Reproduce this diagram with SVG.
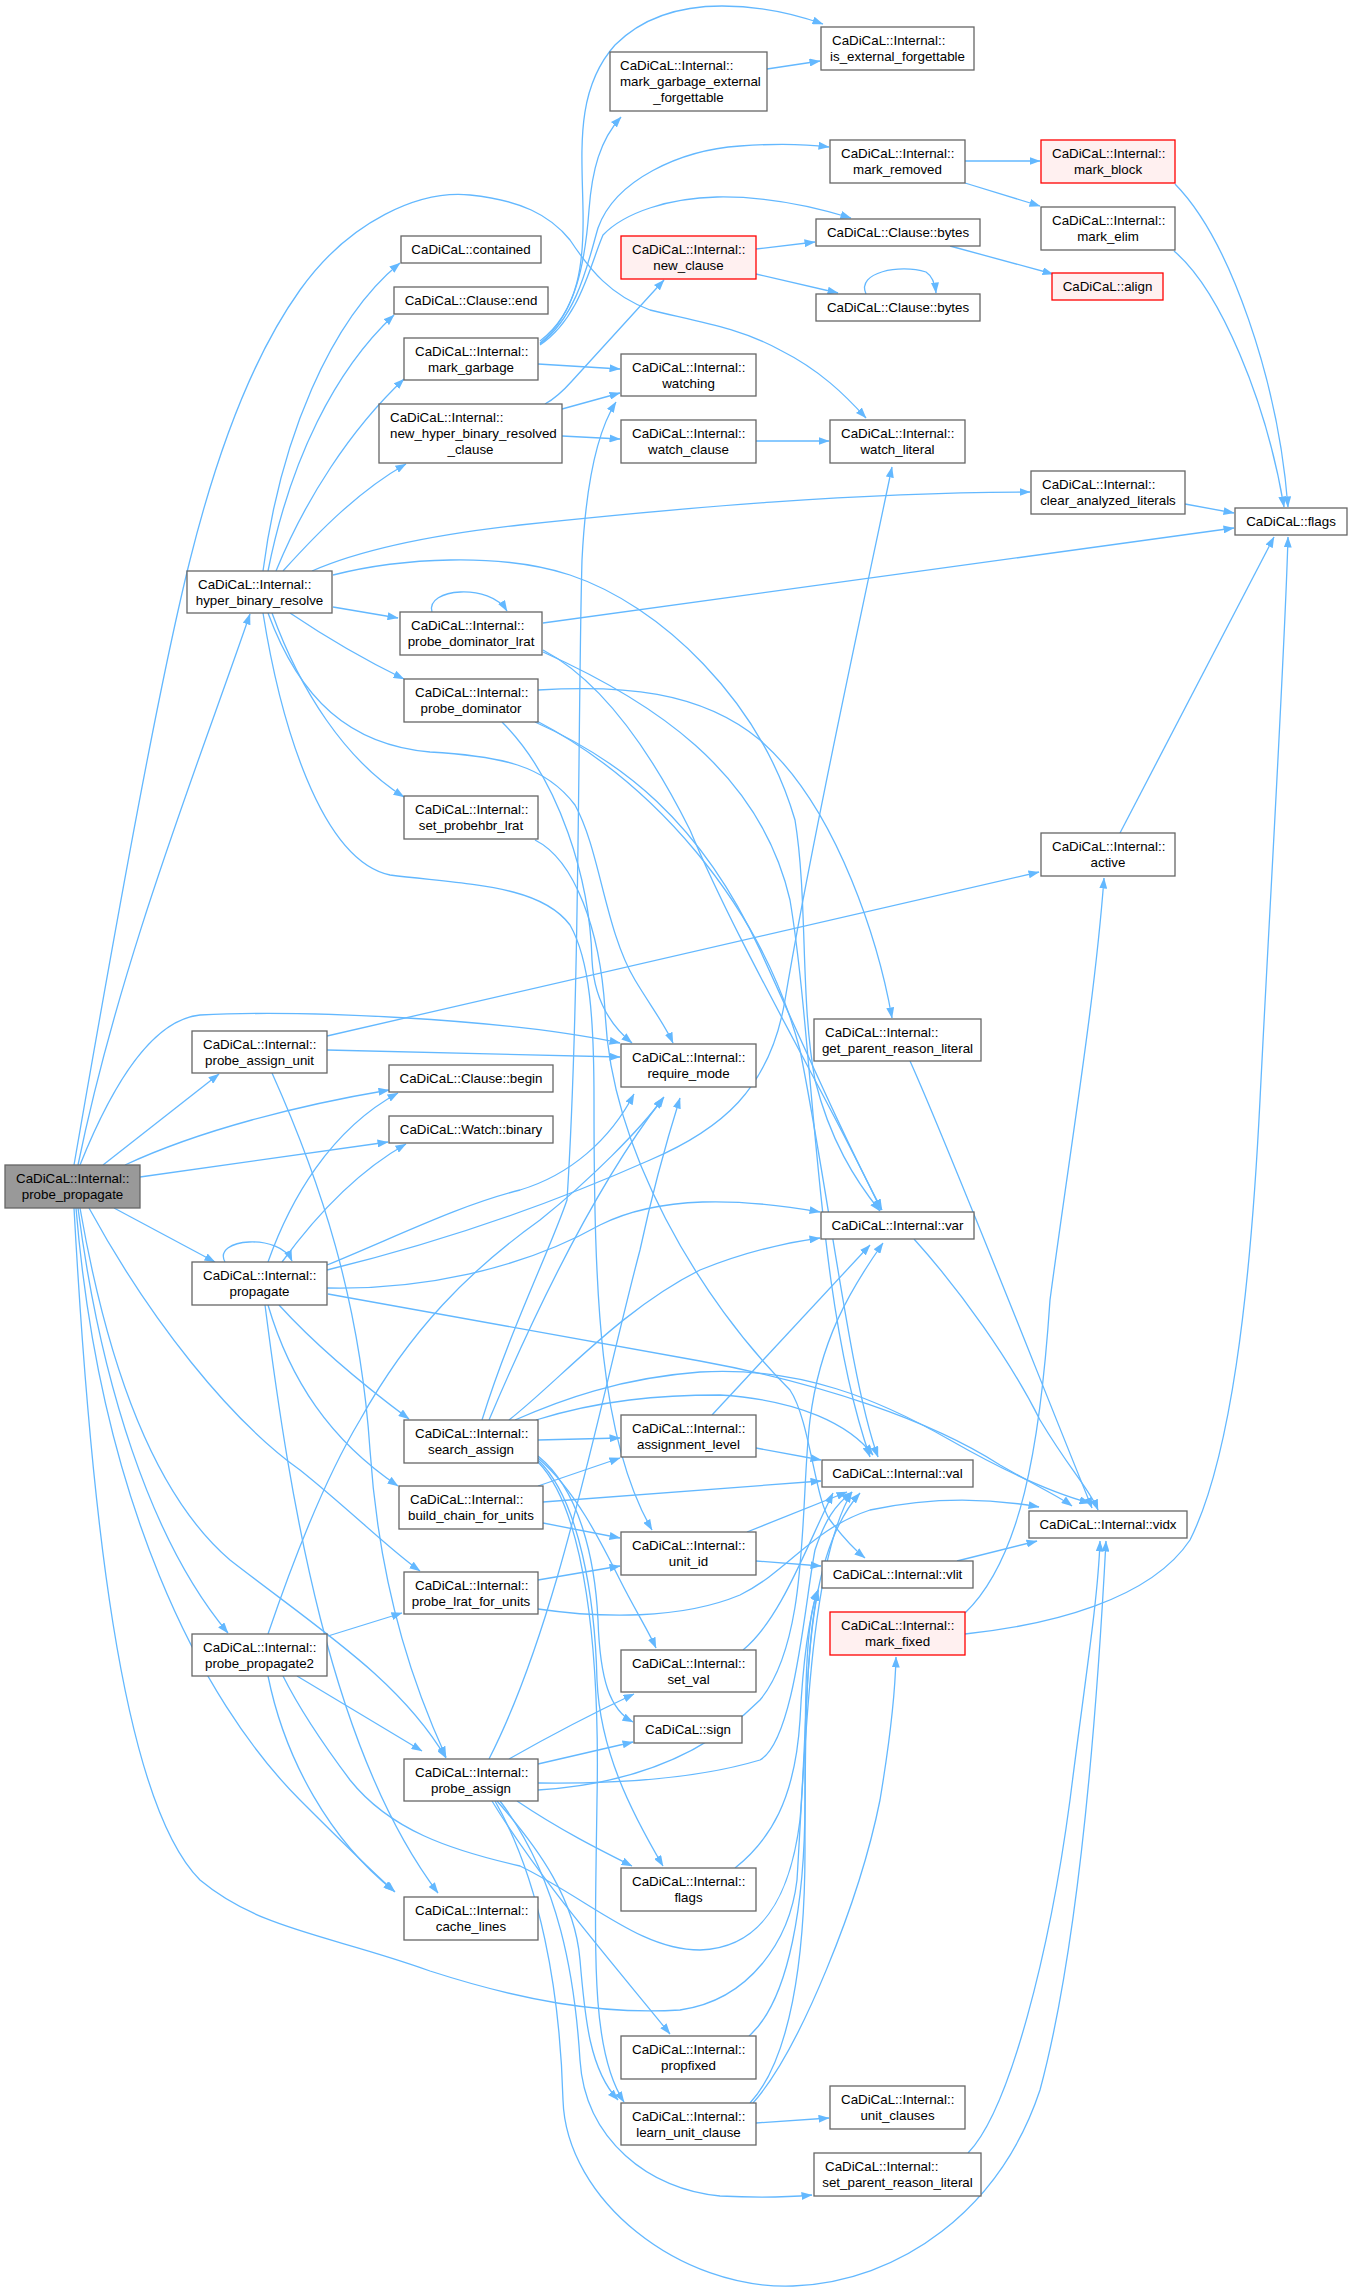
<svg xmlns="http://www.w3.org/2000/svg" width="1352" height="2292" viewBox="0 0 1352 2292">
<defs>
<marker id="a" markerUnits="userSpaceOnUse" markerWidth="11" markerHeight="8" viewBox="0 0 11 8" refX="10.5" refY="4" orient="auto"><path d="M0,0 L11,4 L0,8 z" fill="#63b8ff"/></marker>
</defs>
<style>
.n rect{fill:#ffffff;stroke:#666666;stroke-width:1.3}
.r rect{fill:#fff0f0;stroke:#ff0000}
.root rect{fill:#999999;stroke:#666666}
text{font-family:"Liberation Sans",Arial,Helvetica,sans-serif;font-size:13.33px;fill:#000000}
.c{text-anchor:middle}
.e path{fill:none;stroke:#63b8ff;stroke-width:1.3;marker-end:url(#a)}
</style>
<rect width="1352" height="2292" fill="#ffffff"/>
<g id="edges" class="e">
<path d="M767,69 L820,61"/>
<path d="M540,341 C580,310 584,260 583,210 C582,150 575,90 615,45 C645,15 685,6 722,6 C760,6 795,14 823,24"/>
<path d="M540,343 C575,315 585,265 589,210 C592,170 600,140 621,117"/>
<path d="M540,344 C578,315 588,262 598,228 C615,180 680,150 740,146 C780,143 805,144 829,147"/>
<path d="M540,345 C580,318 590,265 603,235 C625,212 670,198 717,197 C770,196 815,207 851,218"/>
<path d="M538,364 L620,369"/>
<path d="M545,404 C556,398 564,390 572,381 L664,280"/>
<path d="M562,409 L620,393"/>
<path d="M562,436 L620,439"/>
<path d="M756,249 L815,242"/>
<path d="M756,274 L838,293"/>
<path d="M866,294 C856,272 900,264 926,272 C932,276 935,283 936,293"/>
<path d="M950,246 L1053,274"/>
<path d="M965,161 L1040,161"/>
<path d="M965,183 L1040,206"/>
<path d="M1175,184 C1230,240 1278,380 1288,507"/>
<path d="M1174,251 C1220,290 1266,400 1284,507"/>
<path d="M1185,504 L1234,513"/>
<path d="M756,441 L829,441"/>
<path d="M263,571 C280,440 330,320 400,263"/>
<path d="M268,571 C290,460 335,370 394,315"/>
<path d="M276,571 C305,500 350,430 404,379"/>
<path d="M283,571 C320,530 360,490 406,464"/>
<path d="M312,571 C360,550 430,535 520,525 C680,508 860,492 1030,492"/>
<path d="M333,575 C400,558 500,552 570,575 C660,605 760,700 795,820 C808,900 800,1000 815,1080 C830,1140 855,1180 880,1211"/>
<path d="M333,607 L398,618"/>
<path d="M290,613 C330,640 365,660 404,679"/>
<path d="M272,613 C300,690 345,760 404,797"/>
<path d="M268,613 C300,700 350,745 430,752 C500,756 545,765 575,805 C600,850 605,930 635,980 C650,1005 665,1025 673,1043"/>
<path d="M263,613 C280,720 320,860 390,875 C470,885 540,885 570,925 C590,960 594,1020 594,1100 C594,1300 600,1440 652,1530"/>
<path d="M432,612 C425,588 490,583 507,611"/>
<path d="M543,623 L1234,528"/>
<path d="M543,650 C600,680 650,750 690,830 C740,950 830,1100 881,1210"/>
<path d="M543,652 C650,700 760,770 790,900 C815,1050 815,1300 870,1457"/>
<path d="M538,690 C620,685 700,690 760,740 C840,810 880,950 892,1018"/>
<path d="M502,722 C560,780 590,880 592,960 C594,1000 610,1025 632,1043"/>
<path d="M535,722 C620,760 700,820 760,950 C810,1060 850,1150 882,1210"/>
<path d="M535,720 C650,780 760,900 800,1050 C830,1200 850,1380 878,1457"/>
<path d="M535,840 C575,860 600,930 605,1010 C610,1150 700,1300 790,1390 C810,1420 815,1500 830,1520 C845,1540 855,1550 865,1558"/>
<path d="M78,1165 C120,960 200,760 250,614"/>
<path d="M74,1165 C120,900 160,680 190,560 C215,460 250,360 300,290 C350,220 420,190 470,195 C520,200 550,215 570,240 C590,270 610,295 650,310 C700,322 740,328 780,350 C820,370 845,395 866,418"/>
<path d="M80,1165 C110,1090 150,1020 200,1015 C300,1010 500,1018 620,1043"/>
<path d="M103,1165 L219,1074"/>
<path d="M125,1165 C200,1130 300,1105 389,1090"/>
<path d="M140,1177 L388,1142"/>
<path d="M114,1208 L215,1262"/>
<path d="M78,1208 C100,1380 150,1540 228,1633"/>
<path d="M89,1208 C150,1320 230,1420 300,1470 C350,1510 390,1550 420,1571"/>
<path d="M80,1208 C110,1380 160,1500 230,1560 C320,1630 400,1680 446,1758"/>
<path d="M76,1208 C100,1500 200,1700 300,1800 C340,1840 370,1870 395,1892"/>
<path d="M74,1208 C90,1500 120,1800 200,1880 C260,1930 330,1935 430,1971 C520,2000 600,2015 680,2010 C750,2000 790,1940 797,1880 C805,1750 810,1560 852,1492"/>
<path d="M327,1050 L620,1057"/>
<path d="M327,1036 L1039,872"/>
<path d="M272,1073 C320,1180 360,1300 370,1450 C380,1600 420,1700 446,1757"/>
<path d="M328,1636 L402,1613"/>
<path d="M268,1634 C300,1540 330,1470 360,1420 C410,1330 470,1270 540,1220 C590,1180 640,1130 664,1097"/>
<path d="M297,1676 L422,1751"/>
<path d="M268,1676 C285,1760 330,1840 394,1891"/>
<path d="M283,1676 C300,1710 320,1740 350,1780 C390,1830 450,1850 520,1866 C590,1900 640,1950 700,1950 C760,1948 790,1900 800,1820 C810,1700 800,1560 860,1493"/>
<path d="M225,1262 C212,1238 280,1233 292,1261"/>
<path d="M268,1262 C290,1200 330,1130 398,1093"/>
<path d="M282,1262 C320,1210 360,1170 406,1144"/>
<path d="M327,1265 C400,1235 460,1205 520,1190 C570,1175 610,1140 634,1094"/>
<path d="M327,1270 C450,1240 560,1200 650,1160 C720,1130 770,1090 785,1000 C810,850 860,620 892,467"/>
<path d="M327,1288 C420,1290 520,1270 600,1225 C660,1195 740,1198 820,1212"/>
<path d="M328,1294 L700,1361 C820,1383 930,1420 1000,1465 C1040,1488 1060,1497 1072,1506"/>
<path d="M279,1305 C320,1350 370,1390 409,1419"/>
<path d="M268,1305 C290,1380 330,1440 398,1486"/>
<path d="M265,1305 C290,1500 330,1750 438,1893"/>
<path d="M482,1420 C510,1330 550,1250 567,1200 C580,1000 578,700 582,560 C586,480 598,430 616,402"/>
<path d="M489,1420 C540,1300 600,1180 663,1098"/>
<path d="M509,1420 C560,1380 620,1310 700,1270 C750,1250 790,1242 820,1238"/>
<path d="M536,1420 C600,1400 660,1395 720,1395 C800,1400 850,1425 873,1455"/>
<path d="M515,1420 C560,1400 620,1378 700,1372 C800,1366 880,1400 950,1440 C1020,1480 1060,1495 1090,1503"/>
<path d="M538,1440 L620,1438"/>
<path d="M538,1456 C580,1490 595,1560 598,1620 C600,1680 610,1710 633,1722"/>
<path d="M538,1458 C575,1490 600,1540 620,1580 C635,1610 648,1630 656,1648"/>
<path d="M538,1460 C580,1500 595,1600 597,1680 C600,1750 630,1810 663,1866"/>
<path d="M538,1462 C585,1510 600,1650 597,1800 C595,1950 590,2050 624,2102"/>
<path d="M489,1759 C560,1620 600,1400 640,1250 C655,1180 670,1130 680,1098"/>
<path d="M538,1790 C620,1785 700,1760 760,1700 C810,1640 800,1500 810,1420 C820,1340 850,1290 883,1243"/>
<path d="M538,1783 C620,1784 700,1778 760,1760 C795,1740 805,1600 815,1550 C825,1520 835,1505 852,1492"/>
<path d="M509,1759 C560,1730 600,1710 634,1694"/>
<path d="M538,1764 L633,1742"/>
<path d="M517,1801 C560,1830 600,1850 632,1866"/>
<path d="M492,1801 C540,1880 610,1960 670,2034"/>
<path d="M497,1801 C540,1850 575,1900 580,1960 C585,2020 590,2070 618,2100"/>
<path d="M500,1801 C560,1880 575,1980 580,2060 C585,2140 650,2190 720,2196 C760,2198 790,2197 812,2195"/>
<path d="M495,1801 C540,1880 560,1990 563,2100 C566,2200 680,2290 793,2286 C900,2282 1000,2210 1040,2090 C1075,1960 1095,1750 1106,1541"/>
<path d="M712,1415 L870,1245"/>
<path d="M756,1448 L821,1460"/>
<path d="M538,1486 L620,1458"/>
<path d="M543,1502 L821,1481"/>
<path d="M543,1523 L620,1538"/>
<path d="M756,1561 L821,1566"/>
<path d="M747,1532 L847,1492"/>
<path d="M538,1580 L620,1566"/>
<path d="M538,1609 C600,1618 680,1620 740,1595 C790,1570 810,1530 870,1510 C940,1495 1000,1500 1039,1507"/>
<path d="M743,1650 C780,1620 805,1550 833,1493"/>
<path d="M965,1634 C1050,1625 1150,1600 1190,1540 C1230,1460 1250,1300 1260,1100 C1270,900 1285,650 1288,537"/>
<path d="M965,1613 C1020,1560 1040,1450 1050,1300 C1070,1150 1095,1000 1104,878"/>
<path d="M1120,833 L1274,537"/>
<path d="M914,1239 C960,1290 1010,1360 1040,1420 C1070,1470 1090,1490 1098,1510"/>
<path d="M957,1561 L1037,1541"/>
<path d="M910,1061 C950,1150 1040,1380 1092,1508"/>
<path d="M968,2153 C1010,2110 1050,1950 1070,1800 C1085,1680 1098,1600 1100,1541"/>
<path d="M756,2123 L829,2118"/>
<path d="M753,2103 C800,2050 860,1900 880,1800 C890,1740 895,1700 896,1657"/>
<path d="M750,2103 C790,2060 805,1960 805,1850 C805,1750 805,1650 818,1590"/>
<path d="M749,2036 C790,2000 805,1900 805,1800 C805,1700 805,1620 818,1590"/>
<path d="M735,1868 C770,1840 795,1800 800,1720 C803,1660 808,1620 818,1590"/>
</g>
<g id="n_probe_propagate" class="n root"><rect x="5" y="1165" width="135" height="43"/><text x="16" y="1183">CaDiCaL::Internal::</text><text class="c" x="72.5" y="1199">probe_propagate</text></g>
<g id="n_hyper_binary_resolve" class="n"><rect x="187" y="571" width="145" height="42"/><text x="198" y="589">CaDiCaL::Internal::</text><text class="c" x="259.5" y="605">hyper_binary_resolve</text></g>
<g id="n_contained" class="n"><rect x="401" y="236" width="140" height="27"/><text class="c" x="471" y="254">CaDiCaL::contained</text></g>
<g id="n_clause_end" class="n"><rect x="394" y="287" width="154" height="27"/><text class="c" x="471" y="305">CaDiCaL::Clause::end</text></g>
<g id="n_mark_garbage" class="n"><rect x="404" y="338" width="134" height="42"/><text x="415" y="356">CaDiCaL::Internal::</text><text class="c" x="471" y="372">mark_garbage</text></g>
<g id="n_new_hyper_binary_resolved_clause" class="n"><rect x="379" y="404" width="183" height="59"/><text x="390" y="422">CaDiCaL::Internal::</text><text x="390" y="438">new_hyper_binary_resolved</text><text class="c" x="470.5" y="454">_clause</text></g>
<g id="n_mark_garbage_external_forgettable" class="n"><rect x="610" y="52" width="157" height="59"/><text x="620" y="70">CaDiCaL::Internal::</text><text x="620" y="86">mark_garbage_external</text><text class="c" x="688.5" y="102">_forgettable</text></g>
<g id="n_is_external_forgettable" class="n"><rect x="821" y="27" width="153" height="43"/><text x="832" y="45">CaDiCaL::Internal::</text><text class="c" x="897.5" y="61">is_external_forgettable</text></g>
<g id="n_mark_removed" class="n"><rect x="830" y="140" width="135" height="43"/><text x="841" y="158">CaDiCaL::Internal::</text><text class="c" x="897.5" y="174">mark_removed</text></g>
<g id="n_mark_block" class="n r"><rect x="1041" y="140" width="134" height="43"/><text x="1052" y="158">CaDiCaL::Internal::</text><text class="c" x="1108" y="174">mark_block</text></g>
<g id="n_mark_elim" class="n"><rect x="1041" y="207" width="134" height="43"/><text x="1052" y="225">CaDiCaL::Internal::</text><text class="c" x="1108" y="241">mark_elim</text></g>
<g id="n_new_clause" class="n r"><rect x="621" y="236" width="135" height="43"/><text x="632" y="254">CaDiCaL::Internal::</text><text class="c" x="688.5" y="270">new_clause</text></g>
<g id="n_clause_bytes_1" class="n"><rect x="816" y="219" width="164" height="27"/><text class="c" x="898" y="237">CaDiCaL::Clause::bytes</text></g>
<g id="n_clause_bytes_2" class="n"><rect x="816" y="294" width="164" height="27"/><text class="c" x="898" y="312">CaDiCaL::Clause::bytes</text></g>
<g id="n_align" class="n r"><rect x="1052" y="273" width="111" height="27"/><text class="c" x="1107.5" y="291">CaDiCaL::align</text></g>
<g id="n_watching" class="n"><rect x="621" y="354" width="135" height="42"/><text x="632" y="372">CaDiCaL::Internal::</text><text class="c" x="688.5" y="388">watching</text></g>
<g id="n_watch_clause" class="n"><rect x="621" y="420" width="135" height="43"/><text x="632" y="438">CaDiCaL::Internal::</text><text class="c" x="688.5" y="454">watch_clause</text></g>
<g id="n_watch_literal" class="n"><rect x="830" y="420" width="135" height="43"/><text x="841" y="438">CaDiCaL::Internal::</text><text class="c" x="897.5" y="454">watch_literal</text></g>
<g id="n_clear_analyzed_literals" class="n"><rect x="1031" y="471" width="154" height="43"/><text x="1042" y="489">CaDiCaL::Internal::</text><text class="c" x="1108" y="505">clear_analyzed_literals</text></g>
<g id="n_cadical_flags" class="n"><rect x="1235" y="508" width="112" height="27"/><text class="c" x="1291" y="526">CaDiCaL::flags</text></g>
<g id="n_probe_dominator_lrat" class="n"><rect x="400" y="612" width="142" height="43"/><text x="411" y="630">CaDiCaL::Internal::</text><text class="c" x="471" y="646">probe_dominator_lrat</text></g>
<g id="n_probe_dominator" class="n"><rect x="404" y="679" width="134" height="43"/><text x="415" y="697">CaDiCaL::Internal::</text><text class="c" x="471" y="713">probe_dominator</text></g>
<g id="n_set_probehbr_lrat" class="n"><rect x="404" y="796" width="134" height="43"/><text x="415" y="814">CaDiCaL::Internal::</text><text class="c" x="471" y="830">set_probehbr_lrat</text></g>
<g id="n_active" class="n"><rect x="1041" y="833" width="134" height="43"/><text x="1052" y="851">CaDiCaL::Internal::</text><text class="c" x="1108" y="867">active</text></g>
<g id="n_probe_assign_unit" class="n"><rect x="192" y="1031" width="135" height="42"/><text x="203" y="1049">CaDiCaL::Internal::</text><text class="c" x="259.5" y="1065">probe_assign_unit</text></g>
<g id="n_require_mode" class="n"><rect x="621" y="1044" width="135" height="43"/><text x="632" y="1062">CaDiCaL::Internal::</text><text class="c" x="688.5" y="1078">require_mode</text></g>
<g id="n_get_parent_reason_literal" class="n"><rect x="814" y="1019" width="167" height="42"/><text x="825" y="1037">CaDiCaL::Internal::</text><text class="c" x="897.5" y="1053">get_parent_reason_literal</text></g>
<g id="n_clause_begin" class="n"><rect x="389" y="1065" width="164" height="27"/><text class="c" x="471" y="1083">CaDiCaL::Clause::begin</text></g>
<g id="n_watch_binary" class="n"><rect x="389" y="1116" width="164" height="27"/><text class="c" x="471" y="1134">CaDiCaL::Watch::binary</text></g>
<g id="n_var" class="n"><rect x="821" y="1212" width="153" height="27"/><text class="c" x="897.5" y="1230">CaDiCaL::Internal::var</text></g>
<g id="n_propagate" class="n"><rect x="192" y="1262" width="135" height="43"/><text x="203" y="1280">CaDiCaL::Internal::</text><text class="c" x="259.5" y="1296">propagate</text></g>
<g id="n_search_assign" class="n"><rect x="404" y="1420" width="134" height="43"/><text x="415" y="1438">CaDiCaL::Internal::</text><text class="c" x="471" y="1454">search_assign</text></g>
<g id="n_assignment_level" class="n"><rect x="621" y="1415" width="135" height="42"/><text x="632" y="1433">CaDiCaL::Internal::</text><text class="c" x="688.5" y="1449">assignment_level</text></g>
<g id="n_val" class="n"><rect x="822" y="1460" width="151" height="27"/><text class="c" x="897.5" y="1478">CaDiCaL::Internal::val</text></g>
<g id="n_build_chain_for_units" class="n"><rect x="399" y="1486" width="144" height="43"/><text x="410" y="1504">CaDiCaL::Internal::</text><text class="c" x="471" y="1520">build_chain_for_units</text></g>
<g id="n_vidx" class="n"><rect x="1029" y="1511" width="158" height="27"/><text class="c" x="1108" y="1529">CaDiCaL::Internal::vidx</text></g>
<g id="n_unit_id" class="n"><rect x="621" y="1532" width="135" height="43"/><text x="632" y="1550">CaDiCaL::Internal::</text><text class="c" x="688.5" y="1566">unit_id</text></g>
<g id="n_vlit" class="n"><rect x="822" y="1561" width="151" height="27"/><text class="c" x="897.5" y="1579">CaDiCaL::Internal::vlit</text></g>
<g id="n_probe_lrat_for_units" class="n"><rect x="404" y="1572" width="134" height="42"/><text x="415" y="1590">CaDiCaL::Internal::</text><text class="c" x="471" y="1606">probe_lrat_for_units</text></g>
<g id="n_mark_fixed" class="n r"><rect x="830" y="1612" width="135" height="43"/><text x="841" y="1630">CaDiCaL::Internal::</text><text class="c" x="897.5" y="1646">mark_fixed</text></g>
<g id="n_probe_propagate2" class="n"><rect x="192" y="1634" width="135" height="42"/><text x="203" y="1652">CaDiCaL::Internal::</text><text class="c" x="259.5" y="1668">probe_propagate2</text></g>
<g id="n_set_val" class="n"><rect x="621" y="1650" width="135" height="42"/><text x="632" y="1668">CaDiCaL::Internal::</text><text class="c" x="688.5" y="1684">set_val</text></g>
<g id="n_sign" class="n"><rect x="634" y="1716" width="108" height="27"/><text class="c" x="688" y="1734">CaDiCaL::sign</text></g>
<g id="n_probe_assign" class="n"><rect x="404" y="1759" width="134" height="42"/><text x="415" y="1777">CaDiCaL::Internal::</text><text class="c" x="471" y="1793">probe_assign</text></g>
<g id="n_internal_flags" class="n"><rect x="621" y="1868" width="135" height="43"/><text x="632" y="1886">CaDiCaL::Internal::</text><text class="c" x="688.5" y="1902">flags</text></g>
<g id="n_cache_lines" class="n"><rect x="404" y="1897" width="134" height="43"/><text x="415" y="1915">CaDiCaL::Internal::</text><text class="c" x="471" y="1931">cache_lines</text></g>
<g id="n_propfixed" class="n"><rect x="621" y="2036" width="135" height="43"/><text x="632" y="2054">CaDiCaL::Internal::</text><text class="c" x="688.5" y="2070">propfixed</text></g>
<g id="n_learn_unit_clause" class="n"><rect x="621" y="2103" width="135" height="42"/><text x="632" y="2121">CaDiCaL::Internal::</text><text class="c" x="688.5" y="2137">learn_unit_clause</text></g>
<g id="n_unit_clauses" class="n"><rect x="830" y="2086" width="135" height="43"/><text x="841" y="2104">CaDiCaL::Internal::</text><text class="c" x="897.5" y="2120">unit_clauses</text></g>
<g id="n_set_parent_reason_literal" class="n"><rect x="814" y="2153" width="167" height="43"/><text x="825" y="2171">CaDiCaL::Internal::</text><text class="c" x="897.5" y="2187">set_parent_reason_literal</text></g>
</svg>
